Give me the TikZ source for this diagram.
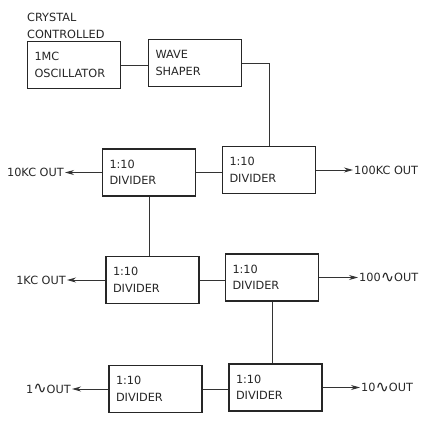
\documentclass[tikz,border=0pt]{standalone}
\usepackage{fontspec}
\setmainfont{DejaVu Sans}
\usetikzlibrary{arrows.meta}
\newcommand{\sinew}{{\fontsize{16}{16}\selectfont\raisebox{-0.5pt}{∿}}}
\begin{document}
\begin{tikzpicture}[x=1pt,y=-1pt,
  font=\fontsize{11.3}{16.5}\selectfont,
  blk/.style={draw=black!85,line width=1.6pt,minimum width=93pt,minimum height=47pt,
    text width=79pt,inner xsep=7pt,inner ysep=3pt,align=left,text=black!85},
  con/.style={draw=black!80,line width=0.9pt},
  outarrow/.style={con,-{Stealth[length=9pt,width=5pt]}},
  lbl/.style={inner sep=1pt,text=black!85}]
\useasboundingbox (0,0) rectangle (436,440);
\node[lbl,anchor=north west,align=left] (crys) at (26,12) {CRYSTAL\\CONTROLLED};
\node[blk] (osc) at (74,65) {1MC\\OSCILLATOR};
\node[blk] (wave) at (195,63) {WAVE\\SHAPER};
\node[blk] (dA) at (269,170) {1:10\\DIVIDER};
\node[blk] (dB) at (149,172.5) {1:10\\DIVIDER};
\node[blk] (dC) at (152.5,280) {1:10\\DIVIDER};
\node[blk] (dD) at (272,277.5) {1:10\\DIVIDER};
\node[blk] (dE) at (275.5,387.5) {1:10\\DIVIDER};
\node[blk] (dF) at (155.5,389) {1:10\\DIVIDER};
% connectors
\draw[con] (osc.east) -- (wave.west |- osc.east);
\draw[con] (wave.east) -| (dA.north);
\draw[con] (dB.east) -- (dA.west |- dB.east);
\draw[con] (dB.south) -- (dC.north -| dB.south);
\draw[con] (dC.east) -- (dD.west |- dC.east);
\draw[con] (dD.south) -- (dE.north -| dD.south);
\draw[con] (dF.east) -- (dE.west |- dF.east);
% outputs
\coordinate (oA) at (353,170);
\coordinate (oB) at (65,172.5);
\coordinate (oC) at (67,280);
\coordinate (oD) at (358,277.5);
\coordinate (oE) at (360,387.5);
\coordinate (oF) at (72,389);
\draw[outarrow] (dA.east) -- (oA);
\draw[outarrow] (dB.west) -- (oB);
\draw[outarrow] (dC.west) -- (oC);
\draw[outarrow] (dD.east) -- (oD);
\draw[outarrow] (dE.east) -- (oE);
\draw[outarrow] (dF.west) -- (oF);
\node[lbl,anchor=west] (tA) at (oA) {100KC OUT};
\node[lbl,anchor=east] (tB) at (oB) {10KC OUT};
\node[lbl,anchor=east] (tC) at (oC) {1KC OUT};
\node[lbl,anchor=west] (tD) at (oD) {100\sinew OUT};
\node[lbl,anchor=west] (tE) at (oE) {10\sinew OUT};
\node[lbl,anchor=east] (tF) at (oF) {1\sinew OUT};
\end{tikzpicture}
\end{document}
